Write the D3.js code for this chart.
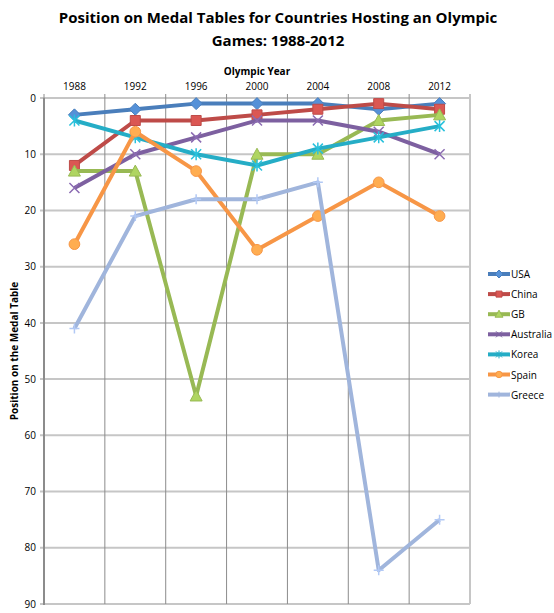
<!DOCTYPE html>
<html>
<head>
<meta charset="utf-8">
<script src="https://cdn.jsdelivr.net/npm/d3@7"></script>
<style>
  body { margin: 0; background: #fff; }
  text { font-family: "Open Sans", "DejaVu Sans", sans-serif; fill: #000; }
</style>
</head>
<body>
<svg id="chart" width="554" height="613"></svg>
<script>
var years = ["1988", "1992", "1996", "2000", "2004", "2008", "2012"];
var countries = ["USA", "China", "GB", "Australia", "Korea", "Spain", "Greece"];
var usa = [3, 2, 1, 1, 1, 2, 1];
var china = [12, 4, 4, 3, 2, 1, 2];
var gb = [13, 13, 53, 10, 10, 4, 3];
var australia = [16, 10, 7, 4, 4, 6, 10];
var korea = [4, 7, 10, 12, 9, 7, 5];
var spain = [26, 6, 13, 27, 21, 15, 21];
var greece = [41, 21, 18, 18, 15, 84, 75];
var yTicks = [0, 10, 20, 30, 40, 50, 60, 70, 80, 90];

var colors = ["#4a7ebb", "#be4b48", "#98b954", "#7d60a0", "#25adc6", "#f79646", "#a0b5dc"];
var markers = ["diamond", "square", "triangle", "x", "star", "circle", "plus"];
var allValues = [usa, china, gb, australia, korea, spain, greece];

var series = countries.map(function(c, i) {
    return { name: c, values: allValues[i], color: colors[i], marker: markers[i] };
});

var svg = d3.select("svg#chart"),
    margin = { left: 44, right: 470, top: 98, bottom: 604 };

var x = d3.scaleBand().domain(years).range([margin.left, margin.right]);
var y = d3.scaleLinear().domain([0, 90]).range([margin.top, margin.bottom]);

// title
svg.append("text")
    .attr("x", 278).attr("y", 23)
    .attr("text-anchor", "middle")
    .style("font-size", "15px").style("font-weight", "bold")
    .text("Position on Medal Tables for Countries Hosting an Olympic");
svg.append("text")
    .attr("x", 278).attr("y", 46)
    .attr("text-anchor", "middle")
    .style("font-size", "15px").style("font-weight", "bold")
    .text("Games: 1988-2012");

// horizontal gridlines
svg.append("g")
    .selectAll("line")
    .data(yTicks)
    .enter().append("line")
    .attr("x1", margin.left - 4).attr("x2", margin.right)
    .attr("y1", function(d) { return y(d); })
    .attr("y2", function(d) { return y(d); })
    .attr("stroke", "#c6c6c6").attr("stroke-width", 2);

// vertical gridlines (band edges)
var edges = years.map(function(d) { return x(d); }).concat([margin.right]);
svg.append("g")
    .selectAll("line")
    .data(edges)
    .enter().append("line")
    .attr("x1", function(d) { return d; })
    .attr("x2", function(d) { return d; })
    .attr("y1", margin.top - 4).attr("y2", margin.bottom)
    .attr("stroke", function(d, i) { return i == edges.length - 1 ? "#c6c6c6" : "#8c8c8c"; })
    .attr("stroke-width", function(d, i) { return i == edges.length - 1 ? 2 : 1; });

// left axis line
svg.append("line")
    .attr("x1", margin.left).attr("x2", margin.left)
    .attr("y1", margin.top).attr("y2", margin.bottom + 1)
    .attr("stroke", "#8c8c8c").attr("stroke-width", 2);

// top axis
var xAxis = d3.axisTop(x).tickSize(0).tickPadding(0);
var gx = svg.append("g")
    .attr("transform", "translate(0," + (margin.top - 8) + ")")
    .call(xAxis);
gx.select(".domain").remove();
gx.selectAll("text").style("font-size", "10px").attr("font-family", null);

var yAxis = d3.axisLeft(y).tickValues(yTicks).tickSize(0).tickPadding(0);
var gy = svg.append("g")
    .attr("transform", "translate(" + (margin.left - 8) + ",0)")
    .call(yAxis);
gy.select(".domain").remove();
gy.selectAll("text").style("font-size", "10px").attr("font-family", null);

svg.append("text")
    .attr("x", 257).attr("y", 75)
    .attr("text-anchor", "middle")
    .style("font-size", "10px").style("font-weight", "bold")
    .text("Olympic Year");

svg.append("text")
    .attr("transform", "translate(18,351) rotate(-90)")
    .attr("text-anchor", "middle")
    .style("font-size", "10px").style("font-weight", "bold")
    .text("Position on the Medal Table");

function markerPath(type, s) {
    var h = s / 2;
    switch (type) {
        case "diamond": return "M0," + (-h - 1) + "L" + (h + 1) + ",0L0," + (h + 1) + "L" + (-h - 1) + ",0Z";
        case "square": return "M" + (-h) + "," + (-h) + "h" + s + "v" + s + "h" + (-s) + "Z";
        case "triangle": return "M0," + (-h - 1) + "L" + (h + 1) + "," + (h) + "L" + (-h - 1) + "," + h + "Z";
        case "circle": return d3.symbol().type(d3.symbolCircle).size(s * s * 0.9)();
        case "x": return "M" + (-h) + "," + (-h) + "L" + h + "," + h + "M" + h + "," + (-h) + "L" + (-h) + "," + h;
        case "star": return "M" + (-h) + "," + (-h) + "L" + h + "," + h + "M" + h + "," + (-h) + "L" + (-h) + "," + h + "M0," + (-h - 1) + "V" + (h + 1);
        case "plus": return "M" + (-h) + ",0H" + h + "M0," + (-h) + "V" + h;
    }
}

function isLine(type) { return type == "x" || type == "star" || type == "plus"; }

var line = d3.line()
    .x(function(d, i) { return x(years[i]) + x.bandwidth() / 2; })
    .y(function(d) { return y(d); });

var g = svg.append("g").attr("class", "series")
    .selectAll("g")
    .data(series)
    .enter().append("g");

g.append("path")
    .attr("d", function(d) { return line(d.values); })
    .attr("fill", "none")
    .attr("stroke", function(d) { return d.color; })
    .attr("stroke-width", 4)
    .attr("stroke-linejoin", "round");

g.each(function(s) {
    d3.select(this).selectAll(".mk")
        .data(s.values)
        .enter().append("path")
        .attr("class", "mk")
        .attr("transform", function(d, i) {
            return "translate(" + (x(years[i]) + x.bandwidth() / 2) + "," + y(d) + ")";
        })
        .attr("d", markerPath(s.marker, 10))
        .attr("fill", isLine(s.marker) ? "none" : d3.color(s.color).brighter(0.4))
        .attr("stroke", isLine(s.marker) ? d3.color(s.color).brighter(0.3) : s.color)
        .attr("stroke-width", isLine(s.marker) ? 1.5 : 1);
});

// legend
var legend = svg.append("g")
    .selectAll("g")
    .data(series)
    .enter().append("g")
    .attr("transform", function(d, i) { return "translate(488," + (274 + i * 20.1) + ")"; });

legend.append("line")
    .attr("x1", 0).attr("x2", 22)
    .attr("stroke", function(d) { return d.color; })
    .attr("stroke-width", 4);
legend.append("path")
    .attr("transform", "translate(11,0)")
    .attr("d", function(d) { return markerPath(d.marker, 6); })
    .attr("fill", function(d) { return isLine(d.marker) ? "none" : d3.color(d.color).brighter(0.4); })
    .attr("stroke", function(d) { return d.color; })
    .attr("stroke-width", 1);
legend.append("text")
    .attr("x", 23).attr("y", 4)
    .style("font-size", "10px")
    .text(function(d) { return d.name; });
</script>
</body>
</html>
